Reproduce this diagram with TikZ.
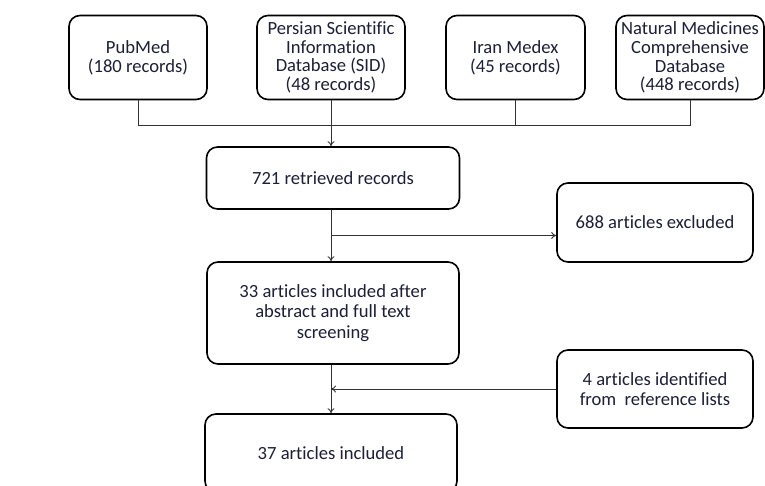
\documentclass[tikz,border=0pt]{standalone}
\usepackage{fontspec}
\setmainfont[Ligatures=CommonOff]{Carlito}
\usetikzlibrary{arrows.meta,calc}
\definecolor{txtcol}{RGB}{30,30,55}
\tikzset{
  box/.style={draw=black,line width=1.6pt,rounded corners=11pt,fill=white,
    align=center,text=txtcol,font=\fontsize{18.6}{18.7}\selectfont,
    inner sep=2pt},
  loosebox/.style={box,font=\fontsize{18.6}{20.5}\selectfont},
  link/.style={draw=black!80,line width=0.9pt},
}
\begin{document}
\begin{tikzpicture}[x=1pt,y=-1pt,>={To[length=5pt,width=7pt]}]
    \useasboundingbox (0,0) rectangle (765,485);

    % Sources
    \node[box,minimum width=138pt,minimum height=84pt] (pub) at (138,57.5)
      {PubMed\\(180 records)};
    \node[box,minimum width=148pt,minimum height=84pt] (sid) at (331,57.5)
      {Persian Scientific\\Information\\Database (SID)\\(48 records)};
    \node[box,minimum width=139pt,minimum height=84pt] (iran) at (515.5,57.5)
      {Iran Medex\\(45 records)};
    \node[box,minimum width=148pt,minimum height=84pt] (nmcd) at (690,57.5)
      {Natural Medicines\\Comprehensive\\Database\\(448 records)};

    % Main column
    \node[box,minimum width=253pt,minimum height=62pt] (ret) at (333,178)
      {721 retrieved records};
    \node[loosebox,minimum width=252pt,minimum height=102pt] (incl) at (333,313)
      {33 articles included after\\abstract and full text\\screening};
    \node[box,minimum width=252pt,minimum height=78pt] (final) at (331,453)
      {37 articles included};

    % Side boxes
    \node[box,minimum width=196pt,minimum height=79pt] (excl) at (655,222.5)
      {688 articles excluded};
    \node[loosebox,minimum width=196pt,minimum height=78pt] (refs) at (655,389)
      {4 articles identified\\from\ \ reference lists};

    % Collecting line under the sources
    \coordinate (bus) at (0,125);
    \draw[link] (pub.south) -- (pub.south |- bus) -- (nmcd.south |- bus) -- (nmcd.south);
    \draw[link] (iran.south) -- (iran.south |- bus);
    \draw[link,->] (sid.south) -- (sid.south |- ret.north);

    % Screening steps
    \coordinate (split) at ($(ret.south)!0.5!(incl.north)$);
    \draw[link,->] (ret.south -| sid.south) -- (incl.north -| sid.south);
    \draw[link,->] (split -| sid.south) -- (split -| excl.west);
    \draw[link,->] (incl.south -| sid.south) -- (final.north -| sid.south);
    \draw[link,->] (refs.west) -- (refs.west -| sid.south);
\end{tikzpicture}
\end{document}
